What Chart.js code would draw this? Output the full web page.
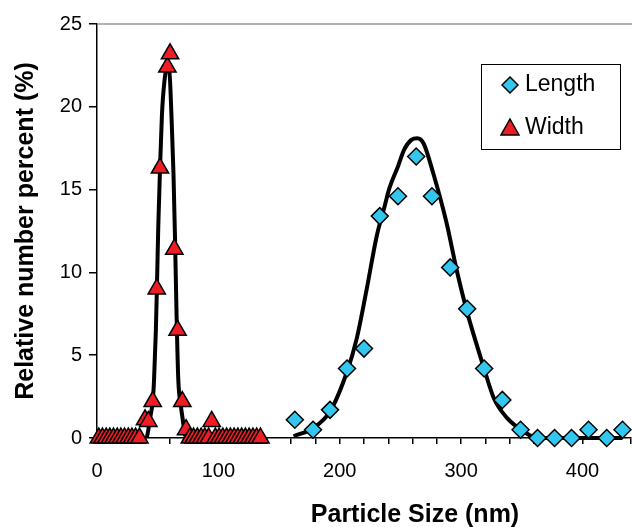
<!DOCTYPE html>
<html>
<head>
<meta charset="utf-8">
<script src="https://cdn.jsdelivr.net/npm/chart.js@4.4.0/dist/chart.umd.min.js"></script>
<style>
html, body { margin: 0; padding: 0; background: #fff; }
#wrap { width: 632px; height: 527px; }
</style>
</head>
<body>
<div id="wrap"><canvas id="sizeChart"></canvas></div>
<script>
// measured points (nm, %)
const lengthSize = [163, 178, 192, 206, 220, 233, 248, 263, 276, 291, 305, 319, 334, 349, 363, 377, 391, 405, 420, 433];
const lengthPct  = [1.1, 0.5, 1.7, 4.2, 5.4, 13.4, 14.6, 17.0, 14.6, 10.3, 7.8, 4.2, 2.3, 0.5, 0, 0, 0, 0.5, 0, 0.5];

const widthSize = [1.5, 4.5, 7.6, 10.6, 13.6, 16.7, 19.7, 22.7, 25.8, 28.8, 31.8, 35,
                   39.6, 42.3, 45.9, 49.2, 51.9, 58, 60.2, 63.7, 66.4, 70.3, 73.4,
                   76.5, 79.6, 82.7, 85.8, 88.9, 92, 94.5, 97.5, 100.6, 103.7, 106.8, 109.9,
                   113, 116.1, 119.2, 122.3, 125.4, 128.5, 131.6, 134.7];
const widthPct  = [0, 0, 0, 0, 0, 0, 0, 0, 0, 0, 0, 0,
                   1.1, 1.0, 2.2, 9.0, 16.3, 22.4, 23.2, 11.4, 6.5, 2.2, 0.5,
                   0, 0, 0, 0, 0, 0, 1.0, 0, 0, 0, 0, 0,
                   0, 0, 0, 0, 0, 0, 0, 0];

// fitted curves
const lengthFitSize = [162, 178, 192, 206, 214, 222, 230.5, 237, 241, 248, 253, 259, 264, 269, 277, 288, 296.5, 305, 318.5, 327, 338, 351.5, 362.5, 433];
const lengthFitPct  = [0.1, 0.6, 1.6, 4.0, 6.0, 8.9, 12.2, 14.0, 15.1, 16.4, 17.4, 18.0, 18.1, 17.8, 16.0, 13.0, 10.1, 7.6, 4.3, 2.4, 1.2, 0.4, 0, 0];

const widthFitSize = [41, 42.3, 44, 45.9, 47, 48.5, 49.5, 50.5, 52, 53.5, 55.5, 57.5, 59.5, 61.5, 63, 64.3, 65.6, 67, 69, 70.5, 72.5];
const widthFitPct  = [0, 0.5, 1.3, 2.2, 3.5, 6.5, 9.5, 12.8, 16.4, 19.5, 21.5, 22.3, 22.2, 19.2, 16.0, 12.0, 7.3, 3.5, 2.0, 1.2, 0.1];

const xTicks = [0, 100, 200, 300, 400];

const toPoints = (xs, ys) => xs.map((x, i) => ({ x: x, y: ys[i] }));

const cyan = '#33C6EE';
const red = '#EE1C24';
const font = "'Liberation Sans', Arial, Helvetica, sans-serif";

// plot frame top line, legend box and x title
const decorations = {
    id: 'decorations',
    afterDraw(chart) {
        const c = chart.ctx;
        const a = chart.chartArea;
        c.save();
        c.strokeStyle = '#999';
        c.lineWidth = 1.5;
        c.beginPath();
        c.moveTo(a.left, a.top);
        c.lineTo(chart.width, a.top);
        c.stroke();

        // legend
        c.strokeStyle = '#000';
        c.lineWidth = 1;
        c.fillStyle = '#fff';
        c.fillRect(481, 64, 140, 86);
        c.strokeRect(481.5, 64.5, 139, 85);

        c.lineWidth = 1.5;
        c.fillStyle = cyan;
        c.beginPath();
        c.moveTo(510, 77); c.lineTo(518, 85); c.lineTo(510, 93); c.lineTo(502, 85);
        c.closePath(); c.fill(); c.stroke();

        c.fillStyle = red;
        c.beginPath();
        c.moveTo(510, 119); c.lineTo(519, 135); c.lineTo(501, 135);
        c.closePath(); c.fill(); c.stroke();

        c.fillStyle = '#000';
        c.font = '23px ' + font;
        c.textAlign = 'left';
        c.textBaseline = 'middle';
        c.fillText('Length', 525, 85);
        c.fillText('Width', 525, 128);

        c.font = 'bold 25px ' + font;
        c.textAlign = 'center';
        c.textBaseline = 'alphabetic';
        c.fillText('Particle Size (nm)', 415, 522);
        c.restore();
    }
};

new Chart(document.getElementById('sizeChart'), {
    type: 'scatter',
    data: {
        datasets: [
            {
                label: 'Length',
                data: toPoints(lengthSize, lengthPct),
                pointStyle: 'rectRot',
                pointRadius: 8.5,
                backgroundColor: cyan,
                borderColor: '#000',
                pointBorderWidth: 1.5,
                showLine: false,
                clip: false
            },
            {
                label: 'Width',
                data: toPoints(widthSize, widthPct),
                pointStyle: 'triangle',
                pointRadius: 10,
                backgroundColor: red,
                borderColor: '#000',
                pointBorderWidth: 1.5,
                showLine: false,
                clip: false
            },
            {
                label: 'Length fit',
                data: toPoints(lengthFitSize, lengthFitPct),
                showLine: true,
                pointRadius: 0,
                borderColor: '#000',
                borderWidth: 4,
                cubicInterpolationMode: 'monotone',
                clip: false
            },
            {
                label: 'Width fit',
                data: toPoints(widthFitSize, widthFitPct),
                showLine: true,
                pointRadius: 0,
                borderColor: '#000',
                borderWidth: 4,
                cubicInterpolationMode: 'monotone',
                clip: false
            }
        ]
    },
    options: {
        responsive: true,
        maintainAspectRatio: false,
        animation: false,
        layout: { autoPadding: false, padding: { top: 24, right: 1, left: 0, bottom: 0 } },
        plugins: {
            legend: { display: false },
            tooltip: { enabled: false }
        },
        scales: {
            x: {
                type: 'linear',
                min: 0,
                max: 440,
                afterFit: function (scale) {
                    scale.height = 89;
                    scale.paddingLeft = 0;
                    scale.paddingRight = 0;
                },
                border: { display: true, color: '#000', width: 1.5 },
                grid: { drawOnChartArea: false, drawTicks: true, tickLength: 6, color: '#000', lineWidth: 1.5 },
                ticks: {
                    stepSize: 20,
                    autoSkip: false,
                    maxRotation: 0,
                    padding: 15,
                    color: '#000',
                    font: { family: font, size: 20 },
                    callback: function (value) {
                        return xTicks.includes(value) ? String(value) : '';
                    }
                }
            },
            y: {
                min: 0,
                max: 25,
                afterFit: function (scale) {
                    scale.width = 97;
                    scale.paddingTop = 0;
                    scale.paddingBottom = 0;
                },
                border: { display: true, color: '#000', width: 1.5 },
                grid: { drawOnChartArea: false, drawTicks: true, tickLength: 8, color: '#000', lineWidth: 1.5 },
                ticks: {
                    stepSize: 5,
                    padding: 7,
                    color: '#000',
                    font: { family: font, size: 20 }
                },
                title: {
                    display: true,
                    text: 'Relative number percent (%)',
                    color: '#000',
                    font: { family: font, size: 25, weight: 'bold' },
                    padding: { top: 11, bottom: 0 }
                }
            }
        }
    },
    plugins: [decorations]
});
</script>
</body>
</html>
